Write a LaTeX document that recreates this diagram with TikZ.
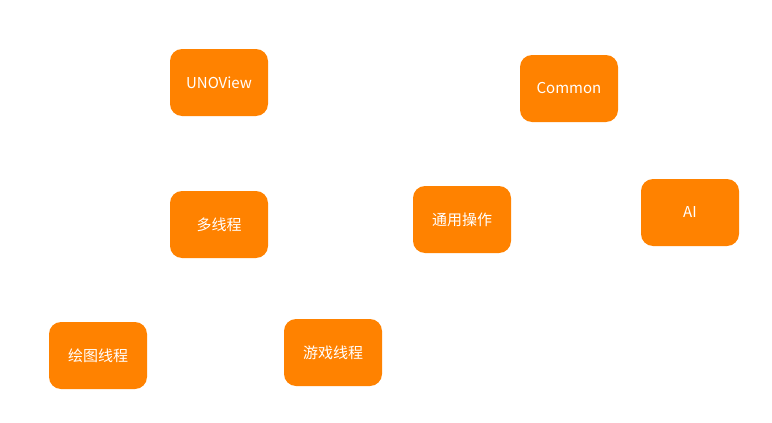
\documentclass[tikz,border=0pt]{standalone}
\usepackage{fontspec}
\setmainfont{Noto Sans CJK SC}
\usetikzlibrary{positioning}
\definecolor{unoorange}{RGB}{255,130,0}
\tikzset{
    % Box styles
    module box/.style={
        fill=unoorange,
        text=white,
        rectangle,
        rounded corners=12pt,
        minimum height=67pt,
        minimum width=98pt,
        align=center,
        font=\fontsize{15pt}{17pt}\selectfont
    }
}
\begin{document}
\begin{tikzpicture}[x=1pt,y=-1pt]
        \useasboundingbox (0,0) rectangle (772,423);

        \node[module box] (unoview) at (219,82.5) {UNOView};
        \node[module box] (common) at (569,88.5) {Common};
        \node[module box] (multithread) at (219,224.5) {多线程};
        \node[module box] (generalop) at (462,219.5) {通用操作};
        \node[module box] (ai) at (690,212.5) {AI};
        \node[module box] (drawthread) at (98,355.5) {绘图线程};
        \node[module box] (gamethread) at (333,352.5) {游戏线程};
    \end{tikzpicture}
\end{document}
